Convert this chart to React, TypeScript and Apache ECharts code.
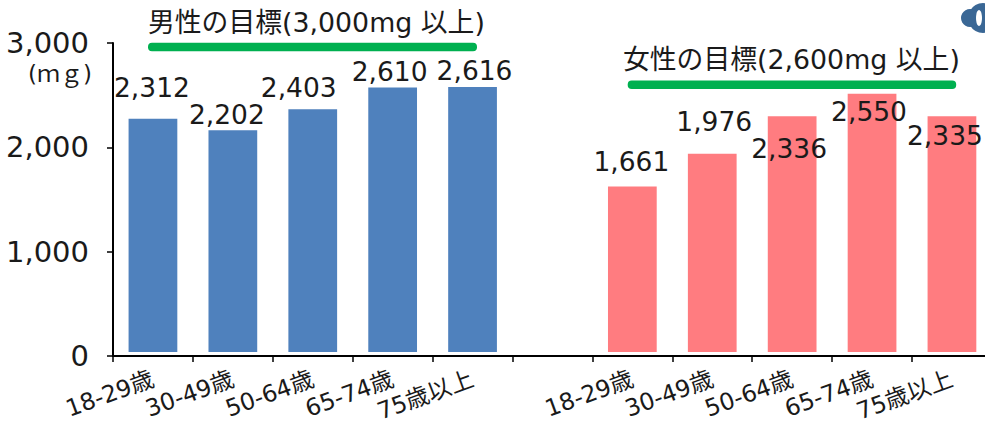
import React, { useEffect, useRef } from "react";
import * as echarts from "echarts";

const categories = ["18-29歳", "30-49歳", "50-64歳", "65-74歳", "75歳以上", "", "18-29歳", "30-49歳", "50-64歳", "65-74歳", "75歳以上"];
const maleValues = [2312, 2202, 2403, 2610, 2616, null, null, null, null, null, null];
const femaleValues = [null, null, null, null, null, null, 1661, 1976, 2336, 2550, 2335];
const yTicks = [0, 1000, 2000, 3000];

const maleLabelOffsets = [[-1, -18], [-6, -2], [-14, -8], [-3, -3], [2, -3]];
const femaleLabelOffsets = [[-1, -11.5], [2, -19], [-3, 46], [-3, 31], [-7, 32]];

const FONT = '"DejaVu Sans", "Noto Sans CJK JP", sans-serif';
const INK = "#1a1a1a";

const labelStyle = { show: true, position: "top", distance: 0, fontFamily: FONT, fontSize: 26.5, color: INK, formatter: (p: any) => Number(p.value).toLocaleString("en-US") };

function withOffsets(values: (number | null)[], offsets: number[][]) {
  let n = 0;
  return values.map((v) => (v === null ? null : { value: v, label: { offset: offsets[n++] } }));
}

export default function App() {
  const ref = useRef<HTMLDivElement>(null);
  useEffect(() => {
    document.body.style.margin = "0";
    document.body.style.overflow = "hidden";
    const chart = echarts.init(ref.current!, null, { renderer: "svg" });
    chart.setOption({
      animation: false,
      backgroundColor: "#fff",
      grid: [
        { left: 113, top: 43, width: 878.9, height: 313 },
        { left: 113, top: 46.9, width: 878.9, height: 305.1 },
      ],
      xAxis: [
        {
          type: "category", gridIndex: 0, data: categories,
          axisLine: { lineStyle: { color: "#000", width: 2 } },
          axisTick: { show: true, length: 6, alignWithLabel: false, lineStyle: { color: "#000", width: 1.5 } },
          axisLabel: { rotate: 20, interval: 0, margin: 22, fontFamily: FONT, fontSize: 23.5, color: INK },
        },
        { type: "category", gridIndex: 1, data: categories, show: false },
      ],
      yAxis: [
        {
          type: "value", gridIndex: 0, min: yTicks[0], max: yTicks[3], interval: 1000,
          splitLine: { show: false },
          axisLine: { show: true, lineStyle: { color: "#000", width: 2 } },
          axisTick: { show: true, length: 6, lineStyle: { color: "#000", width: 1.5 } },
          axisLabel: { margin: 24, fontFamily: FONT, fontSize: 29, color: INK, formatter: (v: number) => v.toLocaleString("en-US") },
        },
        { type: "value", gridIndex: 1, min: 75.7, max: 3000, show: false },
      ],
      series: [
        { name: "男性", type: "bar", xAxisIndex: 1, yAxisIndex: 1, stack: "all", barWidth: "61%", data: withOffsets(maleValues, maleLabelOffsets), itemStyle: { color: "#4F81BD" }, label: labelStyle },
        { name: "女性", type: "bar", xAxisIndex: 1, yAxisIndex: 1, stack: "all", barWidth: "61%", data: withOffsets(femaleValues, femaleLabelOffsets), itemStyle: { color: "#FF7C80" }, label: labelStyle },
      ],
      graphic: [
        { type: "text", left: 148, top: 9, style: { text: "男性の目標(3,000mg 以上)", fontFamily: FONT, fontSize: 26.8, fill: INK } },
        { type: "rect", shape: { x: 148, y: 42.7, width: 329, height: 8.5, r: 4 }, style: { fill: "#00B050" } },
        { type: "text", left: 623, top: 46, style: { text: "女性の目標(2,600mg 以上)", fontFamily: FONT, fontSize: 26.8, fill: INK } },
        { type: "rect", shape: { x: 627.7, y: 80.5, width: 328.5, height: 8.5, r: 4 }, style: { fill: "#00B050" } },
        { type: "text", left: 28, top: 62, style: { text: "(ｍｇ)", fontFamily: FONT, fontSize: 23, fill: INK } },
        { type: "circle", shape: { cx: 983, cy: 18, r: 15 }, style: { fill: "#3A6795" } },
        { type: "circle", shape: { cx: 970, cy: 18, r: 9 }, style: { fill: "#3A6795" } },
        { type: "ellipse", shape: { cx: 979, cy: 18, rx: 3, ry: 8 }, style: { fill: "#fff" } },
      ],
    });
    return () => chart.dispose();
  }, []);
  return (
    <div style={{ width: 985, height: 426, overflow: "hidden" }}>
      <div ref={ref} style={{ width: 1000, height: 426 }} />
    </div>
  );
}
